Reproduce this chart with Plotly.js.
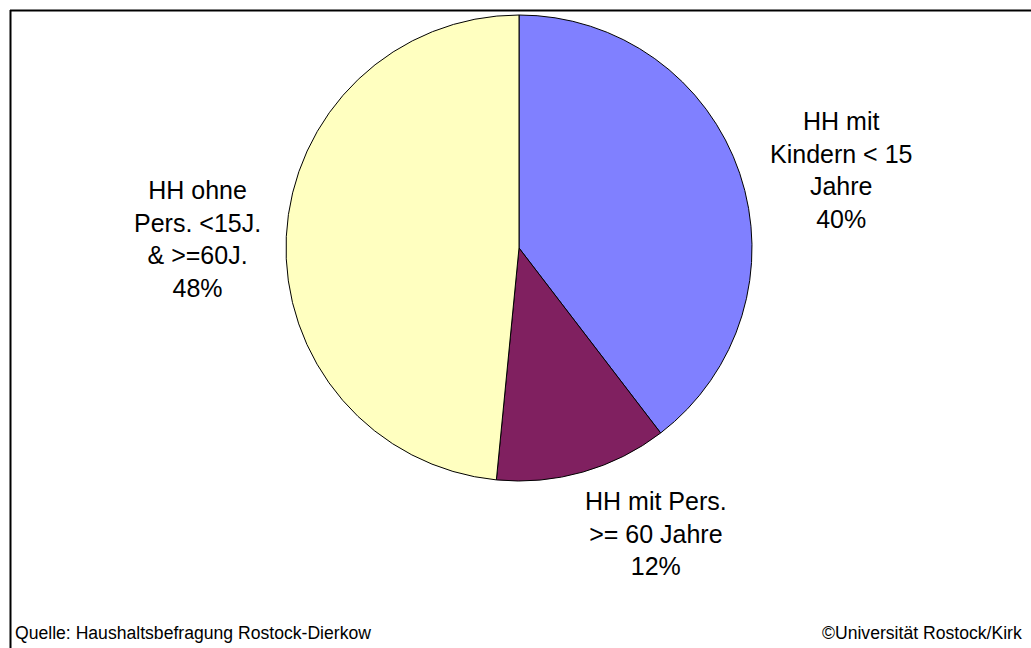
<!DOCTYPE html>
<html>
<head>
<meta charset="utf-8">
<script src="https://cdn.plot.ly/plotly-3.0.1.min.js"></script>
<style>html,body{margin:0;padding:0;background:#fff;}#chart{width:1031px;height:648px;}</style>
</head>
<body>
<div id="chart"></div>
<script>
// Data
const categories = ["HH mit\nKindern < 15\nJahre", "HH mit Pers.\n>= 60 Jahre", "HH ohne\nPers. <15J.\n& >=60J."];
const shares = [39.6, 11.95, 48.45];
const sliceColors = ["#8080FF", "#802060", "#FFFFC0"];
const sourceText = "Quelle: Haushaltsbefragung Rostock-Dierkow";
const copyrightText = "\u00A9Universit\u00e4t Rostock/Kirk";

// Label placement (pixel centres in the 1031x648 picture)
const labelPos = [[841, 170], [656, 533], [197, 239]];

const W = 1031, H = 648;
const cx = 519, cy = 248, r = 233;

function esc(s) {
  return s.replace(/&/g, "&amp;").replace(/</g, "&lt;").replace(/>/g, "&gt;").replace(/\n/g, "<br>");
}
const total = shares.reduce((a, b) => a + b, 0);

const annotations = categories.map((c, i) => ({
  xref: "paper", yref: "paper",
  x: labelPos[i][0] / W, y: 1 - labelPos[i][1] / H,
  xanchor: "center", yanchor: "middle",
  text: esc(c) + "<br>" + Math.round(shares[i] / total * 100) + "%",
  showarrow: false,
  align: "center",
  font: {family: "Liberation Sans, Arial, sans-serif", size: 25, color: "#000"}
}));
annotations.push({
  xref: "paper", yref: "paper", x: 13 / W, y: 1 - 633 / H,
  xanchor: "left", yanchor: "middle", showarrow: false,
  text: esc(sourceText),
  font: {family: "Liberation Sans, Arial, sans-serif", size: 17.6, color: "#000"}
});
annotations.push({
  xref: "paper", yref: "paper", x: 1024 / W, y: 1 - 633 / H,
  xanchor: "right", yanchor: "middle", showarrow: false,
  text: esc(copyrightText),
  font: {family: "Liberation Sans, Arial, sans-serif", size: 17.6, color: "#000"}
});

const trace = {
  type: "pie",
  labels: categories,
  values: shares,
  sort: false,
  direction: "clockwise",
  rotation: 0,
  textinfo: "none",
  hoverinfo: "skip",
  marker: {colors: sliceColors, line: {color: "#000", width: 1}},
  domain: {x: [(cx - r) / W, (cx + r) / W], y: [1 - (cy + r) / H, 1 - (cy - r) / H]},
  showlegend: false
};

const layout = {
  width: W, height: H,
  margin: {l: 0, r: 0, t: 0, b: 0},
  paper_bgcolor: "#fff",
  showlegend: false,
  annotations: annotations,
  shapes: [
    {type: "line", xref: "paper", yref: "paper", x0: 10 / W, x1: 1, y0: 1 - 10.5 / H, y1: 1 - 10.5 / H, line: {color: "#000", width: 2}},
    {type: "line", xref: "paper", yref: "paper", x0: 10.5 / W, x1: 10.5 / W, y0: 0, y1: 1 - 10 / H, line: {color: "#000", width: 2}}
  ]
};

Plotly.newPlot("chart", [trace], layout, {displayModeBar: false, staticPlot: true});
</script>
</body>
</html>
